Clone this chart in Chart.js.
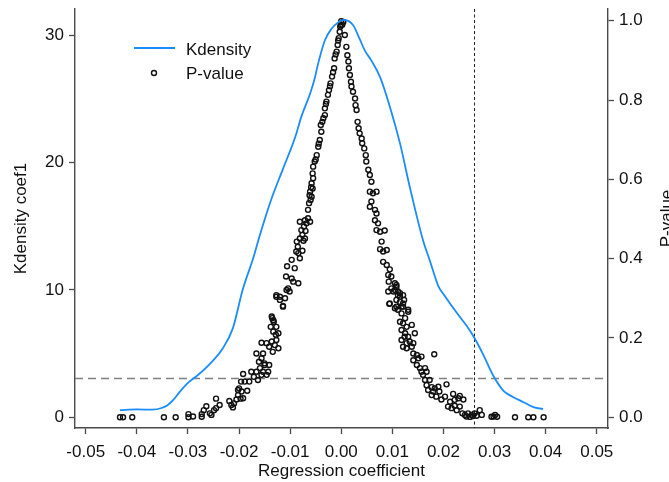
<!DOCTYPE html>
<html>
<head>
<meta charset="utf-8">
<script src="https://cdn.jsdelivr.net/npm/chart.js@4.4.1/dist/chart.umd.min.js"></script>
<style>
  html, body { margin: 0; padding: 0; background: #fff; }
  canvas { display: block; }
</style>
</head>
<body>
<canvas id="myChart" width="669" height="482"></canvas>
<script>
// kernel density of the estimated coefficient (left axis)
const kdensityX = [
  -0.0433, -0.0400, -0.0370, -0.0350, -0.0340, -0.0330, -0.0316, -0.0300, -0.0281, -0.0257,
  -0.0232, -0.0212, -0.0193, -0.0173, -0.0160, -0.0137, -0.0114, -0.0090, -0.0078, -0.0061,
  -0.0052, -0.0045, -0.0032, -0.0019, -0.0006, 0.0004, 0.0023, 0.0036, 0.0046, 0.0059,
  0.0076, 0.0095, 0.0115, 0.0134, 0.0160, 0.0173, 0.0190, 0.0203, 0.0226, 0.0245,
  0.0261, 0.0278, 0.0297, 0.0317, 0.0336, 0.0356, 0.0376, 0.0395
];
const kdensityY = [
  0.57, 0.62, 0.60, 0.75, 0.95, 1.3, 2.0, 2.7, 3.3, 4.2,
  5.4, 7.0, 10.0, 12.4, 14.2, 17.1, 19.5, 22.0, 23.6, 25.4,
  26.6, 27.8, 29.6, 30.5, 31.0, 31.2, 30.8, 29.7, 28.8, 28.0,
  26.7, 24.4, 21.5, 18.1, 13.9, 12.35, 10.3, 9.5, 8.2, 7.2,
  6.2, 4.9, 3.3, 2.1, 1.6, 1.2, 0.8, 0.65
];

// coefficient and p-value of each regression (right axis)
const pvCoef = [
  -0.0433, -0.0427, -0.0409, -0.0347, -0.0324, -0.0299, -0.0299, -0.0290, -0.0273, -0.0273,
  -0.0269, -0.0264, -0.0257, -0.0254, -0.0249, -0.0245, -0.0245, -0.0238, -0.0219, -0.0215,
  -0.0212, -0.0210, -0.0205, -0.0202, -0.0200, -0.0195, -0.0197, -0.0192, -0.0202, -0.0196,
  -0.0192, -0.0189, -0.0184, -0.0180, -0.0176, -0.0171, -0.0166, -0.0163, -0.0159, -0.0156,
  -0.0153, -0.0150, -0.0146, -0.0143, -0.0141, -0.0166, -0.0161, -0.0156, -0.0153, -0.0150,
  -0.0156, -0.0146, -0.0141, -0.0136, -0.0134, -0.0130, -0.0127, -0.0123, -0.0138, -0.0133,
  -0.0128, -0.0135, -0.0132, -0.0127, -0.0123, -0.0136, -0.0133, -0.0127, -0.0120, -0.0114,
  -0.0127, -0.0120, -0.0114, -0.0110, -0.0107, -0.0104, -0.0101, -0.0108, -0.0097, -0.0094,
  -0.0084, -0.0106, -0.0097, -0.0091, -0.0088, -0.0084, -0.0081, -0.0076, -0.0087, -0.0081,
  -0.0076, -0.0071, -0.0078, -0.0073, -0.0068, -0.0081, -0.0071, -0.0065, -0.0061, -0.0065,
  -0.0063, -0.0060, -0.0058, -0.0061, -0.0056, -0.0058, -0.0055, -0.0056, -0.0055, -0.0052,
  -0.0048, -0.0045, -0.0042, -0.0039, -0.0040, -0.0035, -0.0032, -0.0032, -0.0029, -0.0026,
  -0.0024, -0.0021, -0.0018, -0.0014, -0.0013, -0.0009, -0.0007, -0.0005, -0.0003, -0.0001,
  0.0000, -0.0050, -0.0044, -0.0037, -0.0030, -0.0022, -0.0016, -0.0011, -0.0006, -0.0002,
  -0.0062, -0.0059, -0.0070, -0.0074, -0.0085,
  0.0004, 0.0002, 0.0007, 0.0010, 0.0012, 0.0014, 0.0015, 0.0017, 0.0019, 0.0020,
  0.0023, 0.0027, 0.0028, 0.0030, 0.0032, 0.0034, 0.0036, 0.0040, 0.0041, 0.0045,
  0.0048, 0.0049, 0.0053, 0.0056, 0.0059, 0.0056, 0.0062, 0.0069, 0.0059, 0.0056,
  0.0066, 0.0069, 0.0066, 0.0072, 0.0069, 0.0076, 0.0085, 0.0079, 0.0076, 0.0082,
  0.0089, 0.0082, 0.0089, 0.0095, 0.0092, 0.0093, 0.0098, 0.0105, 0.0108, 0.0092,
  0.0102, 0.0111, 0.0115, 0.0121, 0.0123, 0.0094, 0.0108, 0.0118, 0.0098, 0.0108,
  0.0105, 0.0111, 0.0115, 0.0108, 0.0115, 0.0121, 0.0095, 0.0105, 0.0111, 0.0118,
  0.0121, 0.0131, 0.0125, 0.0115, 0.0121, 0.0128, 0.0118, 0.0125, 0.0131, 0.0144,
  0.0134, 0.0141, 0.0118, 0.0121, 0.0128, 0.0131, 0.0138, 0.0124, 0.0128, 0.0138,
  0.0141, 0.0148, 0.0182, 0.0151, 0.0157, 0.0141, 0.0148, 0.0154, 0.0164, 0.0167,
  0.0157, 0.0160, 0.0164, 0.0173, 0.0206, 0.0167, 0.0177, 0.0183, 0.0190, 0.0170,
  0.0180, 0.0192, 0.0177, 0.0186, 0.0196, 0.0203, 0.0219, 0.0213, 0.0222, 0.0229,
  0.0232, 0.0239, 0.0209, 0.0216, 0.0222, 0.0226, 0.0232, 0.0237, 0.0242, 0.0248,
  0.0255, 0.0261, 0.0271, 0.0275, 0.0294, 0.0301, 0.0305, 0.0340, 0.0366, 0.0376,
  0.0396, 0.0245, 0.0252, 0.0258, 0.0265, 0.0298
];
const pvP = [
  0.000, 0.000, 0.000, 0.000, 0.000, 0.008, 0.000, 0.002, 0.008, 0.0015,
  0.018, 0.028, 0.010, 0.006, 0.018, 0.023, 0.047, 0.031, 0.041, 0.031,
  0.025, 0.035, 0.045, 0.056, 0.073, 0.065, 0.047, 0.048, 0.069, 0.090,
  0.109, 0.090, 0.067, 0.090, 0.115, 0.102, 0.115, 0.094, 0.124, 0.107,
  0.115, 0.132, 0.107, 0.115, 0.132, 0.161, 0.140, 0.149, 0.161, 0.136,
  0.188, 0.187, 0.178, 0.191, 0.165, 0.182, 0.195, 0.174, 0.228, 0.216,
  0.208, 0.250, 0.241, 0.228, 0.212, 0.254, 0.245, 0.304, 0.296, 0.279,
  0.308, 0.304, 0.281, 0.300, 0.321, 0.325, 0.317, 0.355, 0.350, 0.342,
  0.338, 0.381, 0.397, 0.376, 0.418, 0.414, 0.401, 0.420, 0.443, 0.451,
  0.460, 0.451, 0.472, 0.481, 0.489, 0.493, 0.497, 0.502, 0.493, 0.523,
  0.540, 0.548, 0.556, 0.569, 0.577, 0.590, 0.603, 0.615, 0.632, 0.645,
  0.661, 0.682, 0.699, 0.720, 0.737, 0.754, 0.762, 0.779, 0.796, 0.813,
  0.825, 0.842, 0.859, 0.880, 0.905, 0.922, 0.939, 0.956, 0.972, 0.989,
  0.999, 0.650, 0.690, 0.745, 0.790, 0.835, 0.870, 0.915, 0.950, 0.985,
  0.560, 0.580, 0.470, 0.445, 0.430,
  0.997, 0.990, 0.964, 0.934, 0.913, 0.897, 0.880, 0.863, 0.846, 0.834,
  0.821, 0.804, 0.787, 0.775, 0.745, 0.729, 0.716, 0.703, 0.691, 0.678,
  0.661, 0.645, 0.624, 0.611, 0.594, 0.569, 0.565, 0.569, 0.544, 0.531,
  0.523, 0.514, 0.497, 0.489, 0.472, 0.468, 0.471, 0.443, 0.424, 0.418,
  0.422, 0.392, 0.384, 0.373, 0.359, 0.342, 0.325, 0.338, 0.329, 0.317,
  0.317, 0.317, 0.304, 0.308, 0.296, 0.286, 0.279, 0.279, 0.355, 0.334,
  0.321, 0.308, 0.313, 0.296, 0.291, 0.287, 0.287, 0.275, 0.271, 0.262,
  0.279, 0.266, 0.250, 0.241, 0.237, 0.228, 0.220, 0.212, 0.203, 0.212,
  0.191, 0.187, 0.195, 0.178, 0.174, 0.271, 0.233, 0.203, 0.187, 0.178,
  0.161, 0.157, 0.159, 0.149, 0.153, 0.144, 0.132, 0.124, 0.124, 0.115,
  0.115, 0.107, 0.094, 0.094, 0.083, 0.081, 0.076, 0.073, 0.077, 0.069,
  0.065, 0.065, 0.056, 0.052, 0.045, 0.052, 0.059, 0.039, 0.044, 0.048,
  0.054, 0.045, 0.027, 0.023, 0.029, 0.018, 0.027, 0.010, 0.006, 0.010,
  0.006, 0.010, 0.018, 0.006, 0.0015, 0.006, 0.0015, 0.000, 0.000, 0.000,
  0.000, 0.002, 0.001, 0.003, 0.004, 0.002
];

const xTicks = [-0.05, -0.04, -0.03, -0.02, -0.01, 0, 0.01, 0.02, 0.03, 0.04, 0.05];
const yLeftTicks = [0, 10, 20, 30];
const yRightTicks = [0, 0.2, 0.4, 0.6, 0.8, 1.0];

// reference lines: 10% significance and the baseline coefficient
const pCutoff = 0.1;
const coefBaseline = 0.026;

const FONT = { family: '"Liberation Sans", Arial, sans-serif', size: 17 };
const AXIS = '#4a4a4a';
const INK = '#111';
const BLUE = '#1a8cff';

Chart.defaults.font.family = FONT.family;
Chart.defaults.font.size = FONT.size;
Chart.defaults.color = INK;

const refLines = {
    id: 'refLines',
    beforeDatasetsDraw(chart) {
        const { ctx, chartArea: a, scales } = chart;
        const y = Math.round(scales.yR.getPixelForValue(pCutoff)) + 0.5;
        const x = Math.round(scales.x.getPixelForValue(coefBaseline)) + 0.5;
        ctx.save();
        ctx.lineWidth = 1.4;
        ctx.strokeStyle = '#808080';
        ctx.setLineDash([8, 5]);
        ctx.beginPath();
        ctx.moveTo(a.left, y);
        ctx.lineTo(a.right, y);
        ctx.stroke();
        ctx.lineWidth = 1;
        ctx.strokeStyle = '#222';
        ctx.setLineDash([3, 2.5]);
        ctx.beginPath();
        ctx.moveTo(x, a.top);
        ctx.lineTo(x, a.bottom);
        ctx.stroke();
        ctx.restore();
    }
};

// legend sits inside the plot, top left
const legendBox = {
    id: 'legendBox',
    afterDraw(chart) {
        const { ctx } = chart;
        ctx.save();
        ctx.strokeStyle = BLUE;
        ctx.lineWidth = 1.8;
        ctx.beginPath();
        ctx.moveTo(134, 48);
        ctx.lineTo(175, 48);
        ctx.stroke();
        ctx.strokeStyle = INK;
        ctx.lineWidth = 1.4;
        ctx.beginPath();
        ctx.arc(154, 73, 2.5, 0, Math.PI * 2);
        ctx.stroke();
        ctx.fillStyle = INK;
        ctx.font = FONT.size + 'px ' + FONT.family;
        ctx.textAlign = 'left';
        ctx.textBaseline = 'alphabetic';
        ctx.fillText('Kdensity', 186, 55);
        ctx.fillText('P-value', 186, 79);
        ctx.restore();
    }
};

// right axis title, reading bottom to top like the left one
const rightTitle = {
    id: 'rightTitle',
    afterDraw(chart) {
        const { ctx, chartArea: a } = chart;
        ctx.save();
        ctx.translate(671.5, (a.top + a.bottom) / 2);
        ctx.rotate(-Math.PI / 2);
        ctx.fillStyle = INK;
        ctx.font = FONT.size + 'px ' + FONT.family;
        ctx.textAlign = 'center';
        ctx.textBaseline = 'alphabetic';
        ctx.fillText('P-value', 0, 0);
        ctx.restore();
    }
};

const axisGrid = { drawOnChartArea: false, drawTicks: true, tickLength: 6, color: AXIS, tickWidth: 1.3 };
const axisBorder = { display: true, color: AXIS, width: 1.4 };

// fixed box sizes so the plot area lands where it should
function fixVertical(width) {
    return s => { s.width = width; s.paddingTop = 0; s.paddingBottom = 0; };
}

const ctx = document.getElementById('myChart').getContext('2d');
const myChart = new Chart(ctx, {
    type: 'scatter',
    data: {
        datasets: [
            {
                type: 'line',
                label: 'Kdensity',
                data: kdensityX.map((x, i) => ({ x: x, y: kdensityY[i] })),
                yAxisID: 'yL',
                borderColor: BLUE,
                borderWidth: 1.8,
                pointRadius: 0,
                fill: false,
                cubicInterpolationMode: 'monotone'
            },
            {
                label: 'P-value',
                data: pvCoef.map((x, i) => ({ x: x, y: pvP[i] })),
                yAxisID: 'yR',
                pointRadius: 2.5,
                borderWidth: 1.4,
                borderColor: INK,
                backgroundColor: 'rgba(0,0,0,0)'
            }
        ]
    },
    options: {
        responsive: false,
        animation: false,
        layout: { padding: { top: 9, left: 0, right: 0, bottom: 0 } },
        plugins: {
            legend: { display: false },
            tooltip: { enabled: false }
        },
        scales: {
            x: {
                type: 'linear',
                position: 'bottom',
                min: -0.0521,
                max: 0.0522,
                afterBuildTicks: s => { s.ticks = xTicks.map(v => ({ value: v })); },
                afterFit: s => { s.height = 54; s.paddingLeft = 0; s.paddingRight = 0; },
                ticks: { callback: v => v.toFixed(2), padding: 8, maxRotation: 0, autoSkip: false },
                grid: axisGrid,
                border: axisBorder,
                title: { display: true, text: 'Regression coefficient', padding: { top: 0, bottom: 0 } }
            },
            yL: {
                type: 'linear',
                position: 'left',
                min: -0.84,
                max: 32.05,
                afterBuildTicks: s => { s.ticks = yLeftTicks.map(v => ({ value: v })); },
                afterFit: fixVertical(75),
                ticks: { callback: v => String(v), padding: 5 },
                grid: axisGrid,
                border: axisBorder,
                title: { display: true, text: 'Kdensity coef1', padding: { top: 11, bottom: 0 } }
            },
            yR: {
                type: 'linear',
                position: 'right',
                min: -0.027,
                max: 1.0295,
                afterBuildTicks: s => { s.ticks = yRightTicks.map(v => ({ value: v })); },
                afterFit: fixVertical(61),
                ticks: { callback: v => v.toFixed(1), padding: 5 },
                grid: axisGrid,
                border: axisBorder
            }
        }
    },
    plugins: [refLines, legendBox, rightTitle]
});
</script>
</body>
</html>
